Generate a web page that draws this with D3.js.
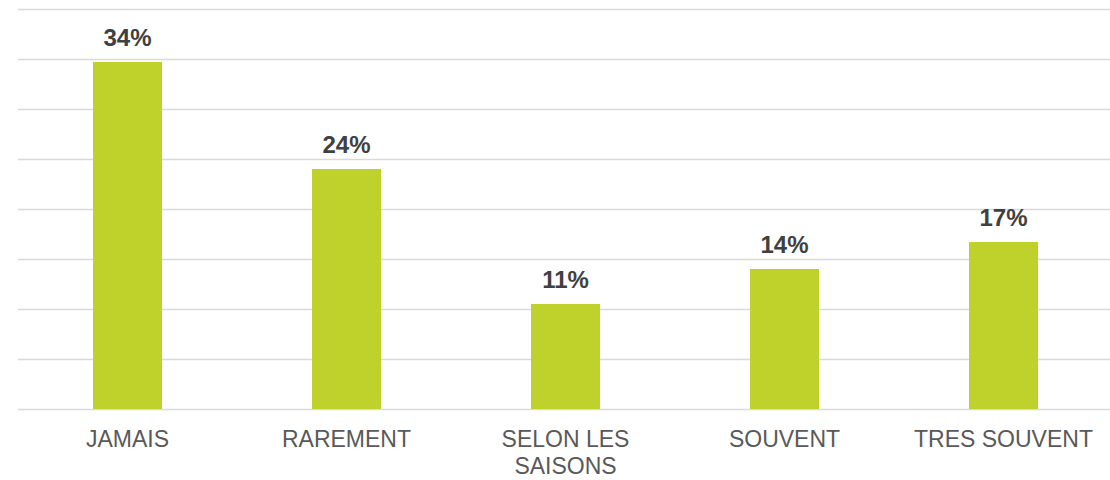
<!DOCTYPE html>
<html>
<head>
<meta charset="utf-8">
<script src="https://cdn.jsdelivr.net/npm/d3@7"></script>
<style>
  body { margin: 0; background: #fff; }
  svg { display: block; font-family: "Liberation Sans", Arial, sans-serif; }
  .grid line { stroke: #d9d9d9; stroke-width: 1.5; }
  .grid .domain { display: none; }
  .x-axis .domain, .x-axis line { display: none; }
  .x-axis text { fill: #595959; font-size: 23px; }
  .barLabel { fill: #404040; font-size: 24px; font-weight: bold; }
</style>
</head>
<body>
<div id="chart"></div>
<script>
// data
var categories = ["JAMAIS", "RAREMENT", "SELON LES SAISONS", "SOUVENT", "TRES SOUVENT"];
var values = [34.7, 24.0, 10.5, 14.0, 16.7];
var valueLabels = ["34%", "24%", "11%", "14%", "17%"];
var gridTicks = [0, 5, 10, 15, 20, 25, 30, 35, 40];

var svgWidth = 1110;
var svgHeight = 480;
var margin = { top: 9, right: -3, bottom: 71, left: 18 };
var width = svgWidth - margin.left - margin.right;
var height = svgHeight - margin.top - margin.bottom;

var svg = d3.select("#chart")
  .append("svg")
  .attr("width", svgWidth)
  .attr("height", svgHeight);

var chartGroup = svg.append("g")
  .attr("transform", `translate(${margin.left}, ${margin.top})`);

var xScale = d3.scaleBand()
  .domain(categories)
  .range([0, width])
  .paddingInner(0.685)
  .paddingOuter(0.3425);

var yScale = d3.scaleLinear()
  .domain([0, 40])
  .range([height, 0]);

// gridlines
chartGroup.append("g")
  .classed("grid", true)
  .call(d3.axisLeft(yScale).tickValues(gridTicks).tickSize(-width).tickFormat(""));

// bars
var rows = categories.map((c, i) => ({ cat: c, value: values[i], label: valueLabels[i] }));

chartGroup.selectAll("rect.bar")
  .data(rows)
  .enter()
  .append("rect")
  .classed("bar", true)
  .attr("x", d => xScale(d.cat))
  .attr("y", d => yScale(d.value))
  .attr("width", xScale.bandwidth())
  .attr("height", d => height - yScale(d.value))
  .attr("fill", "#bfd22b");

chartGroup.selectAll("text.barLabel")
  .data(rows)
  .enter()
  .append("text")
  .classed("barLabel", true)
  .attr("x", d => xScale(d.cat) + xScale.bandwidth() / 2)
  .attr("y", d => yScale(d.value) - 16)
  .attr("text-anchor", "middle")
  .text(d => d.label);

// category axis
var xAxis = chartGroup.append("g")
  .classed("x-axis", true)
  .attr("transform", `translate(0, ${height})`)
  .call(d3.axisBottom(xScale).tickSize(0).tickPadding(0));

// wrap long labels onto two lines
xAxis.selectAll(".tick text").each(function(d) {
  var el = d3.select(this);
  var lines = d.length > 14 ? [d.substring(0, d.lastIndexOf(" ")), d.substring(d.lastIndexOf(" ") + 1)] : [d];
  el.text(null).attr("y", 0).attr("dy", null);
  lines.forEach((ln, i) => {
    el.append("tspan")
      .attr("x", 0)
      .attr("y", 38 + i * 26.5)
      .text(ln);
  });
});
</script>
</body>
</html>
